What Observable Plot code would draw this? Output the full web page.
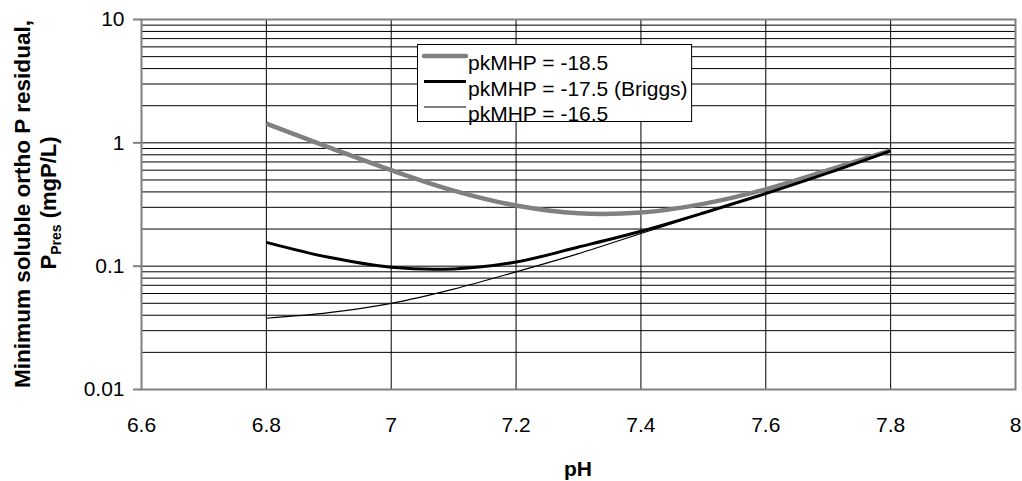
<!DOCTYPE html>
<html>
<head>
<meta charset="utf-8">
<script src="https://cdn.jsdelivr.net/npm/d3@7"></script>
<script src="https://cdn.jsdelivr.net/npm/@observablehq/plot@0.6"></script>
<style>
  html, body { margin: 0; padding: 0; background: #fff; }
  body { width: 1022px; height: 481px; overflow: hidden; }
</style>
</head>
<body>
<script>
// ---- data ----
const pH = [6.8, 6.9, 7.0, 7.1, 7.2, 7.3, 7.4, 7.5, 7.6, 7.7, 7.8];
const seriesNames = ["pkMHP = -18.5", "pkMHP = -17.5 (Briggs)", "pkMHP = -16.5"];
const presMinus185 = [1.43, 0.92, 0.60, 0.41, 0.31, 0.268, 0.272, 0.32, 0.42, 0.60, 0.87];
const presMinus175 = [0.156, 0.118, 0.098, 0.095, 0.108, 0.143, 0.192, 0.270, 0.388, 0.570, 0.861];
const presMinus165 = [0.0378, 0.042, 0.050, 0.0652, 0.090, 0.1265, 0.184, 0.268, 0.387, 0.569, 0.861];
const xTicks = [6.6, 6.8, 7, 7.2, 7.4, 7.6, 7.8, 8];
const yTicks = [0.01, 0.1, 1, 10];
const xLabel = "pH";
const yLabelLine1 = "Minimum soluble ortho P residual,";
const yLabelLine2 = ["P", "Pres", " (mgP/L)"];

const seriesValues = [presMinus185, presMinus175, presMinus165];
const seriesStyle = [
  {stroke: "#808080", strokeWidth: 4.5},
  {stroke: "#000000", strokeWidth: 3},
  {stroke: "#000000", strokeWidth: 1.2}
];
const rows = seriesNames.flatMap((name, i) =>
  pH.map((x, j) => ({series: name, pH: x, p: seriesValues[i][j]})));

// minor log grid lines (2..9 within each decade) plus decade lines
const yGrid = yTicks.slice(0, -1).flatMap(d => d3.range(1, 10).map(k => +(d * k).toPrecision(3))).concat([10]);
const xGrid = xTicks.slice(1, -1);

const FONT = "'Liberation Sans', Arial, Helvetica, sans-serif";

const chart = Plot.plot({
  width: 1022,
  height: 481,
  marginLeft: 141,
  marginRight: 7,
  marginTop: 19,
  marginBottom: 92,
  style: {fontFamily: FONT, fontSize: "21px", color: "#000", background: "#fff", overflow: "visible"},
  x: {domain: [6.6, 8], label: null},
  y: {type: "log", domain: [0.01, 10], label: null},
  marks: [
    Plot.ruleY(yGrid.slice(1), {stroke: "#000", strokeWidth: 1}),
    Plot.ruleX(xGrid, {stroke: "#000", strokeWidth: 1}),
    Plot.axisY(yTicks, {tickFormat: d => String(d), tickSize: 8, tickPadding: 9, stroke: "#808080", strokeWidth: 2, fontSize: 21}),
    Plot.axisX(xTicks, {tickFormat: d => String(d), tickSize: 0, tickPadding: 28, fontSize: 21}),
    ...seriesNames.map((name, i) =>
      Plot.line(rows.filter(d => d.series === name), {
        x: "pH", y: "p", curve: "catmull-rom",
        stroke: seriesStyle[i].stroke, strokeWidth: seriesStyle[i].strokeWidth,
        strokeLinejoin: "round", strokeLinecap: "butt"
      })),
    Plot.frame({stroke: "#808080", strokeWidth: 2})
  ]
});
document.body.append(chart);

const svg = d3.select(chart);

// y-axis title (two lines, rotated)
const yt = svg.append("g")
  .attr("font-family", FONT).attr("font-weight", "bold").attr("font-size", 22)
  .attr("text-anchor", "middle").attr("fill", "#000");
yt.append("text")
  .attr("transform", "translate(30,204) rotate(-90)")
  .attr("textLength", 368).attr("lengthAdjust", "spacingAndGlyphs")
  .text(yLabelLine1);
const l2 = yt.append("text").attr("transform", "translate(56,203) rotate(-90)");
l2.append("tspan").text(yLabelLine2[0]);
l2.append("tspan").attr("font-size", 14).attr("dy", 5).text(yLabelLine2[1]);
l2.append("tspan").attr("dy", -5).text(yLabelLine2[2]);

// x-axis title
svg.append("text")
  .attr("x", 578).attr("y", 476)
  .attr("font-family", FONT).attr("font-weight", "bold").attr("font-size", 21)
  .attr("text-anchor", "middle").attr("fill", "#000")
  .text(xLabel);

// legend
const lg = svg.append("g").attr("font-family", FONT).attr("font-size", 21)
  .attr("fill", "#000").attr("text-anchor", "start");
const box = lg.append("rect")
  .attr("x", 417.5).attr("y", 44.5).attr("height", 77)
  .attr("fill", "#fff").attr("stroke", "#000").attr("stroke-width", 1);
let maxW = 0;
seriesNames.forEach((name, i) => {
  const yy = 56 + i * 25.5;
  lg.append("line")
    .attr("x1", 424).attr("x2", 466).attr("y1", yy).attr("y2", yy)
    .attr("stroke", seriesStyle[i].stroke).attr("stroke-width", seriesStyle[i].strokeWidth)
    .attr("stroke-linecap", i === 0 ? "round" : "butt");
  const t = lg.append("text").attr("x", 468).attr("y", yy + 14).text(name);
  maxW = Math.max(maxW, t.node().getComputedTextLength());
});
box.attr("width", 468 + maxW + 4 - 417.5);
</script>
</body>
</html>
